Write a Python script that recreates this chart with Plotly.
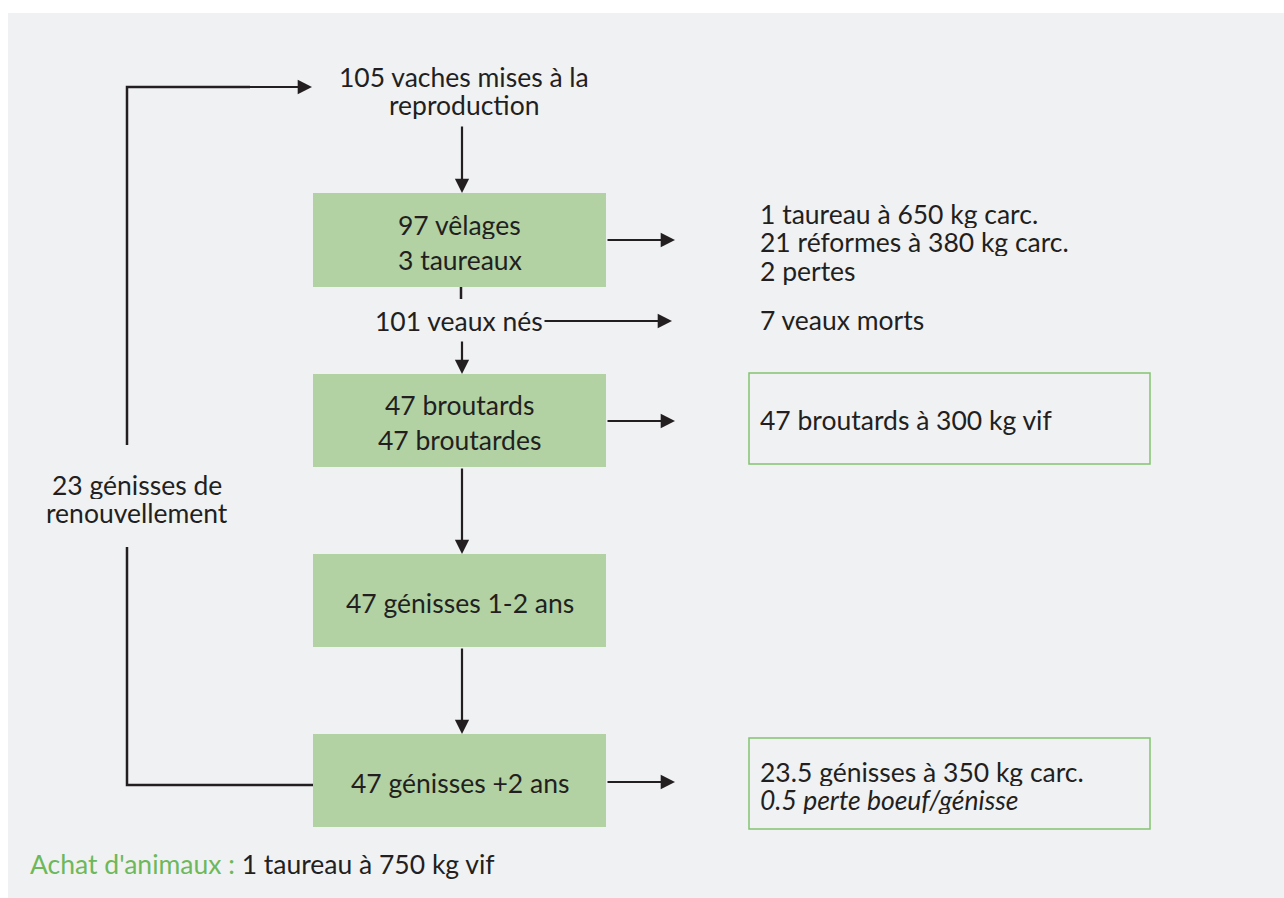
import plotly.graph_objects as go

# ---- data ----
box_labels = [["97 vêlages", "3 taureaux"], ["47 broutards", "47 broutardes"],
              ["47 génisses 1-2 ans"], ["47 génisses +2 ans"]]
top_label = ["105 vaches mises à la", "reproduction"]
births_label = ["101 veaux nés"]
loop_label = ["23 génisses de", "renouvellement"]
out_labels = [["1 taureau à 650 kg carc.", "21 réformes à 380 kg carc.", "2 pertes"],
              ["7 veaux morts"],
              ["47 broutards à 300 kg vif"],
              ["23.5 génisses à 350 kg carc.", "<i>0.5 perte boeuf/génisse</i>"]]
purchase_label = "Achat d'animaux : "
purchase_value = "1 taureau à 750 kg vif"

# ---- layout geometry (pixels) ----
W, H = 1284, 898
BOX_X0, BOX_X1 = 313, 606
CX = 462
box_y = [(193, 287), (374, 467), (554, 647), (734, 827)]
out_x = 758
out_y = [242, 320, 420, 786]
outline_boxes = [(749, 373, 1150, 464), (749, 738, 1150, 829)]
LOOP_X = 127
LH = 28.5
LH_BOX = 35

PANEL = "#f0f1f3"
GREEN = "#b2d2a4"
OUTLINE = "#82c470"
LGREEN = "#6db85a"
INK = "#231f20"
FONT = "Lato"
FS = 26.5

fig = go.Figure()
fig.add_trace(go.Scatter(x=[0, W], y=[0, H], mode="markers",
                         marker=dict(opacity=0), hoverinfo="skip", showlegend=False))

shapes = []
annotations = []


def text_block(x, yc, lines, anchor="center", lh=LH):
    n = len(lines)
    for i, t in enumerate(lines):
        y = yc + (i - (n - 1) / 2) * lh
        annotations.append(dict(x=x, y=y, text=t, showarrow=False,
                                font=dict(family=FONT, size=FS, color=INK),
                                height=28 if n > 1 else None,
                                xanchor=anchor, yanchor="middle"))


# panel
shapes.append(dict(type="rect", x0=8, x1=W + 2, y0=13, y1=H + 2,
                   fillcolor=PANEL, line=dict(width=0), layer="below"))

# green boxes
for (y0, y1), lab in zip(box_y, box_labels):
    shapes.append(dict(type="rect", x0=BOX_X0, x1=BOX_X1, y0=y0, y1=y1,
                       fillcolor=GREEN, line=dict(width=0), layer="below"))
    text_block((BOX_X0 + BOX_X1) / 2, (y0 + y1) / 2 + 2, lab, lh=LH_BOX)

# outlined boxes
for (x0, y0, x1, y1) in outline_boxes:
    shapes.append(dict(type="rect", x0=x0, x1=x1, y0=y0, y1=y1,
                       fillcolor="rgba(0,0,0,0)", line=dict(width=1.5, color=OUTLINE)))


def arrow(x0, y0, x1, y1):
    annotations.append(dict(x=x1, y=y1, ax=x0, ay=y0, xref="x", yref="y",
                            axref="x", ayref="y", text="", showarrow=True,
                            arrowhead=2, arrowsize=1.3, arrowwidth=2.2,
                            arrowcolor=INK, standoff=0, startstandoff=0))


def line(pts):
    path = "M " + " L ".join(f"{x},{y}" for x, y in pts)
    shapes.append(dict(type="path", path=path, line=dict(color=INK, width=2.5)))


# top label
text_block(CX + 2, 91, top_label)
# vertical arrows
arrow(CX, 125, CX, 193)
line([(CX - 1, 287), (CX - 1, 299)])
text_block(459, 321, births_label)
arrow(CX, 340, CX, 374)
arrow(CX, 467, CX, 554)
arrow(CX, 647, CX, 734)

# side arrows
arrow(BOX_X1, 240, 675, 240)
arrow(543, 321, 672, 321)
arrow(BOX_X1, 421, 675, 421)
arrow(BOX_X1, 782, 675, 782)

# out labels
for y, lab in zip(out_y, out_labels):
    text_block(out_x, y, lab, anchor="left")

# loop
line([(BOX_X0, 785), (LOOP_X, 785), (LOOP_X, 547)])
line([(LOOP_X, 445), (LOOP_X, 87), (250, 87)])
arrow(LOOP_X, 87, 312, 87)
text_block(137, 499, loop_label)

# purchase line
annotations.append(dict(x=28, y=864,
                        text=f"<span style='color:{LGREEN}'>{purchase_label}</span>{purchase_value}",
                        showarrow=False, font=dict(family=FONT, size=FS, color=INK),
                        xanchor="left", yanchor="middle"))

fig.update_layout(
    width=W, height=H, margin=dict(l=0, r=0, t=0, b=0),
    paper_bgcolor="white", plot_bgcolor="white",
    xaxis=dict(range=[0, W], visible=False, fixedrange=True),
    yaxis=dict(range=[H, 0], visible=False, fixedrange=True),
    shapes=shapes, annotations=annotations, showlegend=False,
)
fig.write_html("out.html", config={"displayModeBar": False},
               post_script="document.body.style.margin='0px';document.body.style.overflow='hidden';")
